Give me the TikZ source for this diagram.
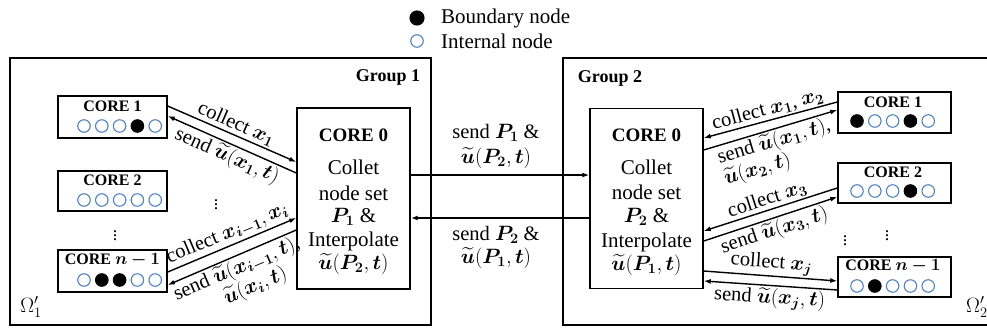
\documentclass[tikz,border=0pt]{standalone}
\usepackage{fontspec}
\setmainfont{Liberation Serif}
\usepackage{amsmath,bm}
\usetikzlibrary{arrows.meta}
\definecolor{nodeblue}{RGB}{79,129,189}
\begin{document}
\begin{tikzpicture}[x=1pt,y=-1pt,
  grp/.style={draw, line width=2.2pt},
  corebox/.style={draw, line width=1.4pt, minimum width=109pt, minimum height=41pt, inner sep=0pt},
  corebox2/.style={corebox, minimum width=113pt},
  zerobox/.style={draw, line width=1.4pt, minimum width=113pt, minimum height=181pt, inner sep=0pt},
  ctitle/.style={font=\fontsize{16}{18}\selectfont\bfseries, inner sep=0pt},
  ztitle/.style={font=\fontsize{19}{22}\selectfont\bfseries, inner sep=0pt},
  gtitle/.style={font=\fontsize{18}{20}\selectfont\bfseries, inner sep=0pt},
  ztext/.style={font=\fontsize{21}{24}\selectfont, inner sep=0pt},
  lbl/.style={font=\fontsize{20.5}{23}\selectfont, inner sep=1.5pt},
  lgd/.style={font=\fontsize{21}{24}\selectfont, inner sep=0pt, anchor=west},
  inode/.style={circle, draw=nodeblue, line width=1.1pt, minimum size=12.5pt, inner sep=0pt},
  bnode/.style={circle, draw=black, fill=black, line width=1.1pt, minimum size=12.5pt, inner sep=0pt},
  arr/.style={line width=1.4pt, -{Latex[length=7pt,width=5pt]}},
  vd/.style={font=\fontsize{18}{20}\selectfont, inner sep=0pt},
]
\useasboundingbox (0,0) rectangle (987,329);

% legend
\node[bnode, minimum size=14pt] (lb) at (417,18) {};
\node[lgd] (lbt) at (441,18) {Boundary node};
\node[inode] (li) at (417,41) {};
\node[lgd] (lit) at (441,41) {Internal node};

% group frames
\draw[grp] (10,58) rectangle (431,325);
\draw[grp] (563,58) rectangle (1000,325);
\node[gtitle] (g1t) at (388,77) {Group 1};
\node[gtitle] (g2t) at (610,78) {Group 2};
\node[font=\fontsize{20}{22}\selectfont, inner sep=0pt] (om1) at (31,307) {$\Omega'_1$};
\node[font=\fontsize{20}{22}\selectfont, inner sep=0pt, anchor=west] (om2) at (966,307) {$\Omega'_2$};

% ---------- Group 1 ----------
\node[corebox, minimum height=42pt] (g1k1) at (112.5,117) {};
\node[ctitle] (g1k1t) at (112.5,106) {CORE 1};
\foreach \s [count=\k] in {inode,inode,inode,bnode,inode}
  \node[\s] (g1k1c\k) at ({66.2+17.8*\k},126) {};

\node[corebox, minimum height=40pt] (g1k2) at (112.5,191) {};
\node[ctitle] (g1k2t) at (112.5,180) {CORE 2};
\foreach \s [count=\k] in {inode,inode,inode,inode,inode}
  \node[\s] (g1k2c\k) at ({66.2+17.8*\k},200) {};

\node[corebox, minimum height=42pt] (g1kn) at (112.5,271) {};
\node[ctitle] (g1knt) at (112.5,260) {CORE $\bm{n-1}$};
\foreach \s [count=\k] in {inode,bnode,bnode,inode,inode}
  \node[\s] (g1knc\k) at ({66.2+17.8*\k},280) {};

\node[vd] (g1d1) at (115,233) {$\vdots$};
\node[vd] (g1d2) at (216,202) {$\vdots$};

\node[zerobox] (g1z) at (353.5,198.5) {};
\node[ztitle] (g1z1) at (353.5,135) {CORE 0};
\node[ztext] (g1z2) at (353.5,167) {Collet};
\node[ztext] (g1z3) at (353.5,193) {node set};
\node[ztext] (g1z4) at (353.5,217) {$\bm{P_1}$ \&};
\node[ztext] (g1z5) at (353.5,241) {Interpolate};
\node[ztext] (g1z6) at (353.5,264) {$\widetilde{\bm u}(\bm{P_2},\bm t)$};

\draw[arr] ([yshift=11]g1k1.east) -- node[lbl, sloped, above] {collect $\bm{x_1}$} ([yshift=36.5]g1z.west);
\draw[arr] ([yshift=25.5]g1z.west) -- node[lbl, sloped, below] {send $\widetilde{\bm u}(\bm{x_1},\bm t)$} ([yshift=1]g1k1.east);
\draw[arr] ([yshift=-1]g1kn.east) -- node[lbl, sloped, above] {collect $\bm{x_{i-1}},\bm{x_i}$} ([yshift=-19.5]g1z.west);
\draw[arr] ([yshift=-31.5]g1z.west) -- node[lbl, sloped, below, align=center, font=\fontsize{20.5}{23}\selectfont] {send $\widetilde{\bm u}(\bm{x_{i-1}},\bm t)$,\\ \quad$\widetilde{\bm u}(\bm{x_i},\bm t)$} ([yshift=-14]g1kn.east);

% ---------- Group 2 ----------
\node[zerobox, minimum height=180pt] (g2z) at (646.5,198.5) {};
\node[ztitle] (g2z1) at (646.5,135) {CORE 0};
\node[ztext] (g2z2) at (646.5,167) {Collet};
\node[ztext] (g2z3) at (646.5,192) {node set};
\node[ztext] (g2z4) at (646.5,217) {$\bm{P_2}$ \&};
\node[ztext] (g2z5) at (646.5,242) {Interpolate};
\node[ztext] (g2z6) at (646.5,265) {$\widetilde{\bm u}(\bm{P_1},\bm t)$};

\node[corebox2, minimum height=41pt] (g2k1) at (894.5,112.5) {};
\node[ctitle] (g2k1t) at (893,102) {CORE 1};
\foreach \s [count=\k] in {bnode,inode,inode,bnode,inode}
  \node[\s] (g2k1c\k) at ({839.2+17.8*\k},121) {};

\node[corebox2, minimum height=40pt] (g2k2) at (894.5,183) {};
\node[ctitle] (g2k2t) at (893,172) {CORE 2};
\foreach \s [count=\k] in {inode,inode,inode,bnode,inode}
  \node[\s] (g2k2c\k) at ({839.2+17.8*\k},191) {};

\node[corebox2, minimum height=40pt] (g2kn) at (894.5,277) {};
\node[ctitle] (g2knt) at (893,266) {CORE $\bm{n-1}$};
\foreach \s [count=\k] in {inode,bnode,inode,inode,inode}
  \node[\s] (g2knc\k) at ({839.2+17.8*\k},286) {};

\node[vd] (g2d1) at (845,238) {$\vdots$};
\node[vd] (g2d2) at (887,233) {$\vdots$};

\draw[arr] ([yshift=10.5]g2k1.west) -- node[lbl, sloped, above] {collect $\bm{x_1}$, $\bm{x_2}$} ([yshift=60.5]g2z.east);
\draw[arr] ([yshift=48.5]g2z.east) -- node[lbl, sloped, below, align=left, font=\fontsize{20.5}{22}\selectfont] {send $\widetilde{\bm u}(\bm{x_1},\bm t)$,\\ $\widetilde{\bm u}(\bm{x_2},\bm t)$} ([yshift=2.5]g2k1.west);
\draw[arr] ([yshift=-5]g2k2.west) -- node[lbl, sloped, above] {collect $\bm{x_3}$} ([yshift=-32.5]g2z.east);
\draw[arr] ([yshift=-42.5]g2z.east) -- node[lbl, sloped, below] {send $\widetilde{\bm u}(\bm{x_3},\bm t)$} ([yshift=-14]g2k2.west);
\draw[arr] ([yshift=-72.5]g2z.east) -- node[lbl, sloped, above] {collect $\bm{x_j}$} ([yshift=-4]g2kn.west);
\draw[arr] ([yshift=-13]g2kn.west) -- node[lbl, sloped, below] {send $\widetilde{\bm u}(\bm{x_j},\bm t)$} ([yshift=-82.5]g2z.east);

% ---------- between groups ----------
\draw[arr] ([yshift=23.5]g1z.east) -- ([yshift=23.5]g2z.west);
\draw[arr] ([yshift=-19.5]g2z.west) -- ([yshift=-19.5]g1z.east);
\node[lbl, inner sep=0pt] (m1) at (496,133) {send $\bm{P_1}$ \&};
\node[lbl, inner sep=0pt] (m2) at (496,158) {$\widetilde{\bm u}(\bm{P_2},\bm t)$};
\node[lbl, inner sep=0pt] (m3) at (496,235) {send $\bm{P_2}$ \&};
\node[lbl, inner sep=0pt] (m4) at (496,258) {$\widetilde{\bm u}(\bm{P_1},\bm t)$};
\end{tikzpicture}
\end{document}
